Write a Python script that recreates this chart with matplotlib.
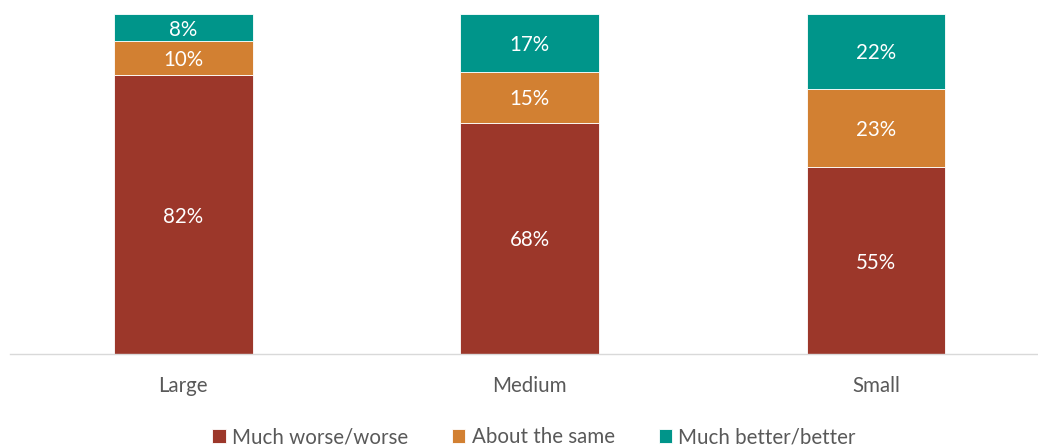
import numpy as np
import matplotlib.pyplot as plt

plt.rcParams['font.family'] = ['Lato', 'DejaVu Sans']

sizes = ["Large", "Medium", "Small"]
worse = [82, 68, 55]
same = [10, 15, 23]
better = [8, 17, 22]

series = [
    ("Much worse/worse", worse, "#9C372A"),
    ("About the same", same, "#D28032"),
    ("Much better/better", better, "#00958A"),
]

fig = plt.figure(figsize=(10.38, 4.48), dpi=100)
ax = fig.add_axes([10 / 1038, 94 / 448, 1028 / 1038, 340 / 448])

x = np.arange(len(sizes))
bottom = np.zeros(len(sizes))
for name, vals, color in series:
    vals = np.array(vals, dtype=float)
    ax.bar(x, vals, 0.4, bottom=bottom, color=color, label=name,
           edgecolor="white", linewidth=0.6)
    for xi, b, v in zip(x, bottom, vals):
        ax.text(xi, b + v / 2 - 0.6, f"{v:.0f}%", ha="center", va="center",
                color="white", fontsize=14.8)
    bottom += vals

ax.set_xlim(-0.5, 2.467)
ax.set_ylim(0, 100)
ax.set_xticks(x)
ax.set_xticklabels(sizes, fontsize=14.8, color="#595959")
ax.tick_params(axis="x", length=0, pad=16)
ax.set_yticks([])
for s in ["top", "right", "left"]:
    ax.spines[s].set_visible(False)
ax.spines["bottom"].set_color("#D9D9D9")
ax.spines["bottom"].set_linewidth(1)

fig.legend(loc="center", bbox_to_anchor=(534 / 1038, 1 - 437 / 448), ncol=3,
           frameon=False, fontsize=14.8, handlelength=0.65, handleheight=0.65,
           handletextpad=0.3, columnspacing=2.15, labelcolor="#595959")

fig.savefig("out.png", dpi=100)
